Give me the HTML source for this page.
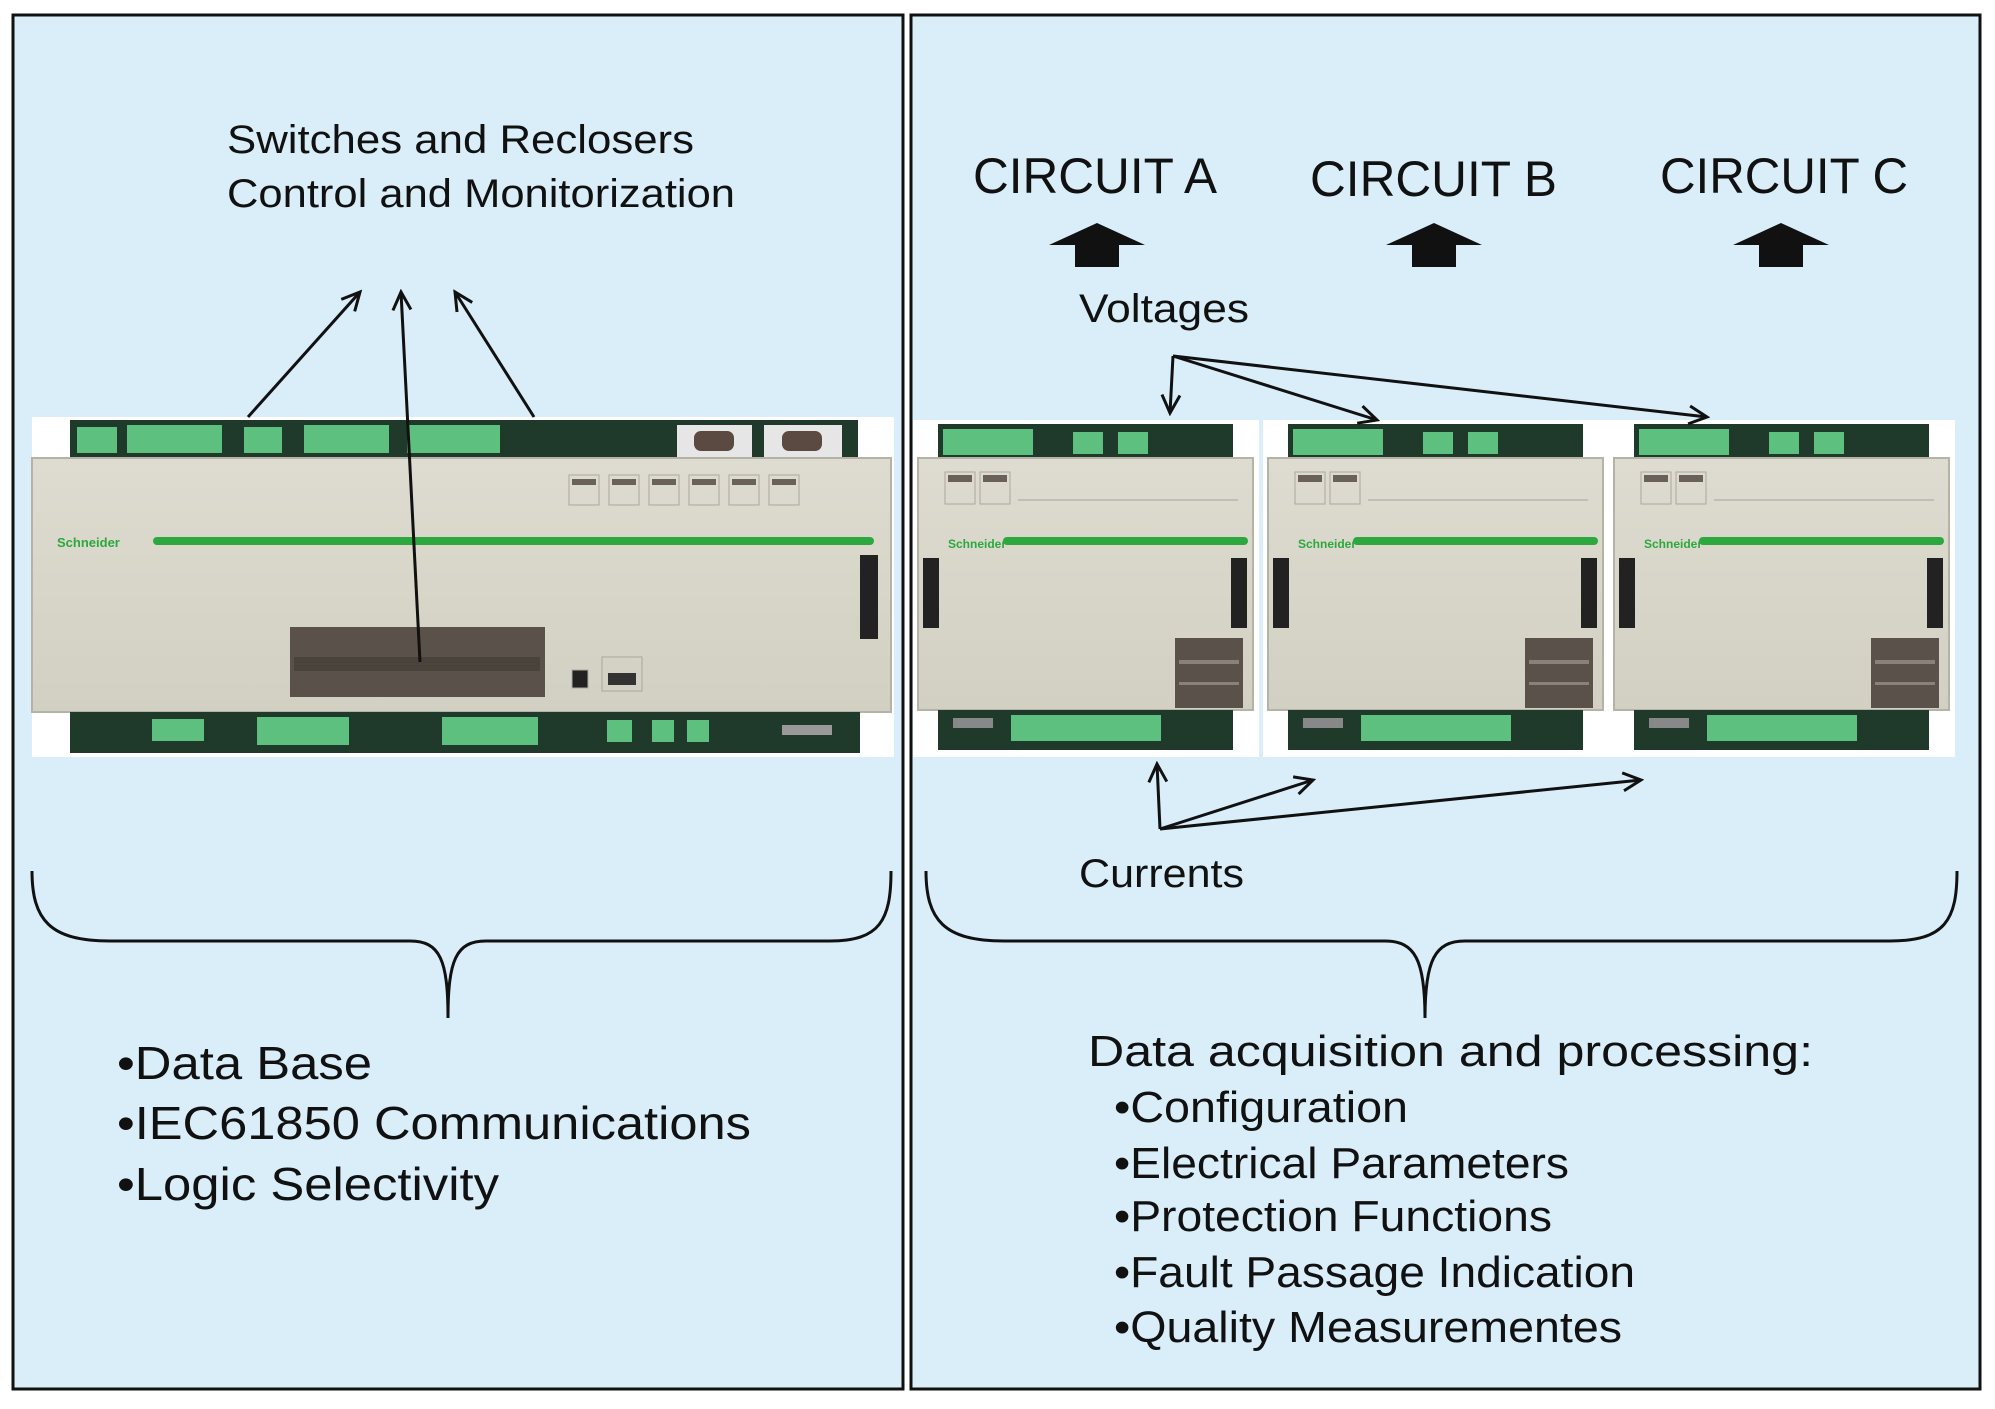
<!DOCTYPE html>
<html><head><meta charset="utf-8"><style>
html,body{margin:0;padding:0;background:#fff;}
svg{display:block;}
text{font-family:"Liberation Sans",Arial,sans-serif;fill:#111;}
</style></head><body>
<svg width="1995" height="1409" viewBox="0 0 1995 1409" xmlns="http://www.w3.org/2000/svg">
<defs>
<marker id="ah" markerWidth="22" markerHeight="22" refX="19" refY="11" orient="auto" markerUnits="userSpaceOnUse">
<path d="M1,2 L19,11 L1,20" fill="none" stroke="#111" stroke-width="3"/>
</marker>
<linearGradient id="beige" x1="0" y1="0" x2="0" y2="1">
<stop offset="0" stop-color="#dedcd0"/><stop offset="1" stop-color="#d2d0c2"/>
</linearGradient>
<g id="mod">
<rect x="0" y="0" width="346" height="337" fill="#fff"/>
<rect x="25" y="4" width="295" height="36" fill="#1f3a2a"/>
<rect x="30" y="9" width="90" height="26" fill="#5ec07e"/>
<rect x="160" y="12" width="30" height="22" fill="#5ec07e"/>
<rect x="205" y="12" width="30" height="22" fill="#5ec07e"/>
<rect x="5" y="38" width="335" height="252" fill="url(#beige)" stroke="#b5b3a6" stroke-width="2"/>
<rect x="35" y="55" width="24" height="7" fill="#6a625a"/>
<rect x="70" y="55" width="24" height="7" fill="#6a625a"/>
<rect x="32" y="52" width="30" height="32" fill="none" stroke="#aaa8a0"/>
<rect x="67" y="52" width="30" height="32" fill="none" stroke="#aaa8a0"/>
<line x1="105" y1="80" x2="325" y2="80" stroke="#b8b6aa" stroke-width="1.5"/>
<rect x="90" y="117" width="245" height="8" rx="4" fill="#2ca83e"/>
<rect x="10" y="138" width="16" height="70" fill="#222"/>
<rect x="318" y="138" width="16" height="70" fill="#222"/>
<rect x="262" y="218" width="68" height="70" fill="#5a524a"/>
<rect x="266" y="240" width="60" height="4" fill="#8a8278"/>
<rect x="266" y="262" width="60" height="3" fill="#8a8278"/>
<rect x="25" y="290" width="295" height="40" fill="#1f3a2a"/>
<rect x="98" y="295" width="150" height="26" fill="#5ec07e"/>
<rect x="40" y="298" width="40" height="10" fill="#888"/>
</g>
</defs>

<rect x="13" y="15" width="890" height="1374" fill="#d9eef8" stroke="#111" stroke-width="3"/>
<rect x="911" y="15" width="1069" height="1374" fill="#d9eef8" stroke="#111" stroke-width="3"/>

<text x="227" y="153" font-size="40" textLength="467" lengthAdjust="spacingAndGlyphs">Switches and Reclosers</text>
<text x="227" y="207" font-size="40" textLength="508" lengthAdjust="spacingAndGlyphs">Control and Monitorization</text>

<g transform="translate(32,417)">
<rect x="0" y="0" width="862" height="340" fill="#fff"/>
<rect x="38" y="3" width="788" height="38" fill="#1f3a2a"/>
<rect x="45" y="10" width="40" height="26" fill="#5ec07e"/>
<rect x="95" y="8" width="95" height="28" fill="#5ec07e"/>
<rect x="212" y="10" width="38" height="26" fill="#5ec07e"/>
<rect x="272" y="8" width="85" height="28" fill="#5ec07e"/>
<rect x="375" y="8" width="93" height="28" fill="#5ec07e"/>
<rect x="645" y="8" width="75" height="32" fill="#e6e6e6"/>
<rect x="662" y="14" width="40" height="20" rx="7" fill="#5a4a42"/>
<rect x="732" y="8" width="78" height="32" fill="#e6e6e6"/>
<rect x="750" y="14" width="40" height="20" rx="7" fill="#5a4a42"/>
<rect x="0" y="41" width="859" height="254" fill="url(#beige)" stroke="#b5b3a6" stroke-width="2"/>
<g fill="#6a625a"><rect x="540" y="62" width="24" height="6"/><rect x="580" y="62" width="24" height="6"/><rect x="620" y="62" width="24" height="6"/><rect x="660" y="62" width="24" height="6"/><rect x="700" y="62" width="24" height="6"/><rect x="740" y="62" width="24" height="6"/></g>
<g fill="none" stroke="#aaa8a0"><rect x="537" y="58" width="30" height="30"/><rect x="577" y="58" width="30" height="30"/><rect x="617" y="58" width="30" height="30"/><rect x="657" y="58" width="30" height="30"/><rect x="697" y="58" width="30" height="30"/><rect x="737" y="58" width="30" height="30"/></g>
<rect x="121" y="120" width="721" height="8" rx="4" fill="#2ca83e"/>
<text x="25" y="130" font-size="13" font-weight="bold" style="fill:#2ca83e">Schneider</text>
<rect x="828" y="138" width="18" height="84" fill="#222"/>
<rect x="258" y="210" width="255" height="70" fill="#5a524a"/>
<rect x="262" y="240" width="246" height="14" fill="#4a433c"/>
<rect x="540" y="253" width="16" height="18" fill="#222" stroke="#aaa" />
<rect x="570" y="240" width="40" height="34" fill="none" stroke="#aaa8a0"/>
<rect x="576" y="256" width="28" height="12" fill="#333"/>
<rect x="38" y="295" width="790" height="41" fill="#1f3a2a"/>
<rect x="120" y="302" width="52" height="22" fill="#5ec07e"/>
<rect x="225" y="300" width="92" height="28" fill="#5ec07e"/>
<rect x="410" y="300" width="96" height="28" fill="#5ec07e"/>
<rect x="575" y="303" width="25" height="22" fill="#5ec07e"/>
<rect x="620" y="303" width="22" height="22" fill="#5ec07e"/>
<rect x="655" y="303" width="22" height="22" fill="#5ec07e"/>
<rect x="750" y="308" width="50" height="10" fill="#999"/>
</g>

<g stroke="#111" stroke-width="3" fill="none" marker-end="url(#ah)">
<line x1="248" y1="417" x2="360" y2="292"/>
<line x1="420" y1="662" x2="401" y2="292"/>
<line x1="534" y1="417" x2="455" y2="292"/>
</g>

<use href="#mod" x="913" y="420"/>
<use href="#mod" x="1263" y="420"/>
<use href="#mod" x="1609" y="420"/>
<g font-size="12" font-weight="bold">
<text x="948" y="548" style="fill:#2ca83e">Schneider</text>
<text x="1298" y="548" style="fill:#2ca83e">Schneider</text>
<text x="1644" y="548" style="fill:#2ca83e">Schneider</text>
</g>

<text x="973" y="193" font-size="50" textLength="244" lengthAdjust="spacingAndGlyphs">CIRCUIT A</text>
<text x="1310" y="196" font-size="50" textLength="247" lengthAdjust="spacingAndGlyphs">CIRCUIT B</text>
<text x="1660" y="193" font-size="50" textLength="248" lengthAdjust="spacingAndGlyphs">CIRCUIT C</text>
<g fill="#111">
<path d="M1097,223 L1145,245 L1119,245 L1119,267 L1075,267 L1075,245 L1049,245 Z"/>
<path d="M1434,223 L1482,245 L1456,245 L1456,267 L1412,267 L1412,245 L1386,245 Z"/>
<path d="M1781,223 L1829,245 L1803,245 L1803,267 L1759,267 L1759,245 L1733,245 Z"/>
</g>

<text x="1079" y="322" font-size="40" textLength="170" lengthAdjust="spacingAndGlyphs">Voltages</text>
<g stroke="#111" stroke-width="3" fill="none" marker-end="url(#ah)">
<line x1="1173" y1="356" x2="1170" y2="413"/>
<line x1="1173" y1="356" x2="1377" y2="420"/>
<line x1="1173" y1="356" x2="1707" y2="417"/>
<line x1="1160" y1="829" x2="1157" y2="764"/>
<line x1="1160" y1="829" x2="1313" y2="780"/>
<line x1="1160" y1="829" x2="1641" y2="780"/>
</g>
<text x="1079" y="887" font-size="40" textLength="165" lengthAdjust="spacingAndGlyphs">Currents</text>

<path d="M32,871 C32,920 50,941 110,941 L410,941 C440,941 448,960 448,1018 C448,960 456,941 486,941 L830,941 C880,941 891,920 891,871" fill="none" stroke="#111" stroke-width="3"/>
<path d="M926,871 C926,920 944,941 1004,941 L1385,941 C1415,941 1425,960 1425,1018 C1425,960 1435,941 1465,941 L1890,941 C1945,941 1957,920 1957,871" fill="none" stroke="#111" stroke-width="3"/>

<text x="117" y="1079" font-size="46" textLength="255" lengthAdjust="spacingAndGlyphs">•Data Base</text>
<text x="117" y="1139" font-size="46" textLength="634" lengthAdjust="spacingAndGlyphs">•IEC61850 Communications</text>
<text x="117" y="1200" font-size="46" textLength="382" lengthAdjust="spacingAndGlyphs">•Logic Selectivity</text>

<text x="1088" y="1066" font-size="44" textLength="725" lengthAdjust="spacingAndGlyphs">Data acquisition and processing:</text>
<text x="1114" y="1122" font-size="44" textLength="294" lengthAdjust="spacingAndGlyphs">•Configuration</text>
<text x="1114" y="1178" font-size="44" textLength="455" lengthAdjust="spacingAndGlyphs">•Electrical Parameters</text>
<text x="1114" y="1231" font-size="44" textLength="438" lengthAdjust="spacingAndGlyphs">•Protection Functions</text>
<text x="1114" y="1287" font-size="44" textLength="521" lengthAdjust="spacingAndGlyphs">•Fault Passage Indication</text>
<text x="1114" y="1342" font-size="44" textLength="508" lengthAdjust="spacingAndGlyphs">•Quality Measurementes</text>
</svg>
</body></html>
